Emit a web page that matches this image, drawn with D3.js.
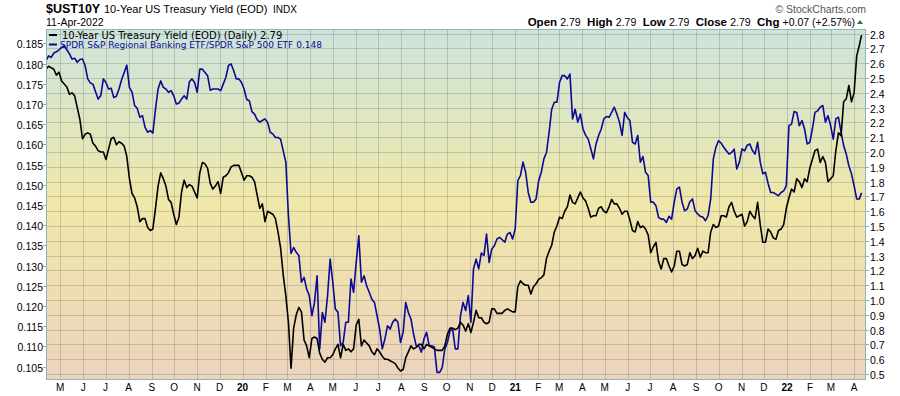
<!DOCTYPE html>
<meta charset="utf-8">
<script src="https://d3js.org/d3.v7.min.js"></script>
<style>
  body { margin: 0; background: #fff; }
</style>
<div id="chart"></div>
<script>

// closes read every half week, starting 12-Apr-2019; the last point is 11-Apr-2022
const startDate = new Date(2019, 3, 12);
const lastDate = new Date(2022, 3, 11);

// 10-Year US Treasury Yield (right axis)
const yieldValues = [
  2.56, 2.58, 2.57, 2.56, 2.52, 2.54, 2.48, 2.46, 2.44, 2.39,
  2.40, 2.38, 2.30, 2.22, 2.09, 2.12, 2.13, 2.12, 2.06, 2.04,
  2.01, 2.00, 2.00, 1.95, 2.02, 2.09, 2.10, 2.05, 2.07, 2.06,
  2.04, 1.97, 1.82, 1.72, 1.69, 1.63, 1.53, 1.55, 1.55, 1.49,
  1.47, 1.48, 1.62, 1.77, 1.86, 1.82, 1.77, 1.68, 1.66, 1.58,
  1.51, 1.56, 1.73, 1.81, 1.76, 1.78, 1.77, 1.73, 1.69, 1.86,
  1.93, 1.92, 1.89, 1.79, 1.75, 1.77, 1.80, 1.72, 1.83, 1.84,
  1.86, 1.90, 1.91, 1.91, 1.91, 1.86, 1.81, 1.84, 1.84, 1.83,
  1.80, 1.71, 1.62, 1.65, 1.53, 1.60, 1.59, 1.58, 1.55, 1.46,
  1.35, 1.17, 1.03, 0.85, 0.54, 0.81, 0.90, 0.95, 0.92, 0.73,
  0.69, 0.61, 0.74, 0.75, 0.74, 0.64, 0.60, 0.58, 0.61, 0.61,
  0.63, 0.67, 0.70, 0.61, 0.70, 0.66, 0.67, 0.65, 0.67, 0.83,
  0.87, 0.69, 0.73, 0.71, 0.69, 0.65, 0.63, 0.67, 0.65, 0.62,
  0.60, 0.60, 0.59, 0.58, 0.57, 0.54, 0.52, 0.53, 0.61, 0.65,
  0.69, 0.67, 0.68, 0.70, 0.70, 0.67, 0.70, 0.69, 0.68, 0.67,
  0.66, 0.66, 0.66, 0.69, 0.77, 0.81, 0.81, 0.80, 0.81, 0.85,
  0.83, 0.79, 0.84, 0.78, 0.85, 0.93, 0.88, 0.88, 0.85, 0.84,
  0.85, 0.94, 0.94, 0.91, 0.91, 0.91, 0.93, 0.94, 0.93, 0.92,
  0.92, 1.09, 1.13, 1.11, 1.10, 1.10, 1.04, 1.09, 1.11, 1.14,
  1.15, 1.17, 1.28, 1.33, 1.37, 1.46, 1.50, 1.56, 1.55, 1.60,
  1.63, 1.71, 1.66, 1.65, 1.69, 1.73, 1.69, 1.67, 1.62, 1.56,
  1.57, 1.57, 1.62, 1.63, 1.60, 1.59, 1.63, 1.68, 1.65, 1.65,
  1.62, 1.58, 1.60, 1.60, 1.54, 1.47, 1.46, 1.53, 1.49, 1.50,
  1.48, 1.44, 1.32, 1.36, 1.39, 1.26, 1.21, 1.28, 1.28, 1.23,
  1.19, 1.23, 1.33, 1.33, 1.24, 1.23, 1.24, 1.32, 1.28, 1.30,
  1.35, 1.29, 1.33, 1.32, 1.32, 1.46, 1.51, 1.49, 1.50, 1.57,
  1.57, 1.56, 1.63, 1.66, 1.60, 1.56, 1.57, 1.58, 1.50, 1.53,
  1.60, 1.57, 1.55, 1.66, 1.51, 1.39, 1.39, 1.48, 1.46, 1.42,
  1.41, 1.47, 1.48, 1.51, 1.62, 1.69, 1.75, 1.73, 1.82, 1.80,
  1.76, 1.82, 1.80, 1.89, 1.95, 2.01, 2.02, 1.93, 1.97, 1.93,
  1.80, 1.82, 1.84, 2.01, 2.13, 2.11, 2.34, 2.36, 2.45, 2.34,
  2.40, 2.65, 2.72, 2.79
];

// SPDR S&P Regional Banking ETF / SPDR S&P 500 ETF (left axis)
const ratioValues = [
  0.1807, 0.1819, 0.1815, 0.1826, 0.1829, 0.1834, 0.1840, 0.1844, 0.1834, 0.1824,
  0.1811, 0.1813, 0.1803, 0.1810, 0.1811, 0.1795, 0.1762, 0.1752, 0.1749, 0.1730,
  0.1712, 0.1720, 0.1762, 0.1753, 0.1737, 0.1739, 0.1716, 0.1719, 0.1737, 0.1760,
  0.1778, 0.1796, 0.1741, 0.1729, 0.1696, 0.1689, 0.1667, 0.1671, 0.1642, 0.1630,
  0.1634, 0.1628, 0.1687, 0.1737, 0.1757, 0.1741, 0.1737, 0.1729, 0.1733, 0.1720,
  0.1700, 0.1702, 0.1712, 0.1720, 0.1712, 0.1755, 0.1762, 0.1753, 0.1729, 0.1786,
  0.1786, 0.1778, 0.1770, 0.1734, 0.1737, 0.1737, 0.1737, 0.1733, 0.1749, 0.1766,
  0.1795, 0.1799, 0.1782, 0.1762, 0.1762, 0.1753, 0.1737, 0.1711, 0.1708, 0.1681,
  0.1675, 0.1661, 0.1655, 0.1659, 0.1663, 0.1655, 0.1630, 0.1626, 0.1617, 0.1617,
  0.1613, 0.1584, 0.1556, 0.1424, 0.1330, 0.1345, 0.1333, 0.1325, 0.1259, 0.1271,
  0.1242, 0.1226, 0.1176, 0.1209, 0.1275, 0.1094, 0.1184, 0.1160, 0.1225, 0.1316,
  0.1260, 0.1193, 0.1185, 0.1102, 0.1110, 0.1160, 0.1160, 0.1267, 0.1234, 0.1308,
  0.1374, 0.1259, 0.1275, 0.1250, 0.1234, 0.1217, 0.1209, 0.1176, 0.1143, 0.1094,
  0.1118, 0.1151, 0.1143, 0.1160, 0.1168, 0.1160, 0.1110, 0.1135, 0.1209, 0.1184,
  0.1168, 0.1131, 0.1102, 0.1102, 0.1086, 0.1119, 0.1135, 0.1102, 0.1102, 0.1098,
  0.1036, 0.1036, 0.1048, 0.1094, 0.1110, 0.1139, 0.1143, 0.1094, 0.1094, 0.1176,
  0.1209, 0.1189, 0.1226, 0.1160, 0.1292, 0.1316, 0.1292, 0.1331, 0.1325, 0.1378,
  0.1308, 0.1341, 0.1349, 0.1366, 0.1370, 0.1364, 0.1358, 0.1378, 0.1382, 0.1366,
  0.1391, 0.1510, 0.1523, 0.1556, 0.1531, 0.1481, 0.1457, 0.1457, 0.1465, 0.1510,
  0.1531, 0.1564, 0.1580, 0.1630, 0.1687, 0.1704, 0.1704, 0.1753, 0.1770, 0.1770,
  0.1762, 0.1774, 0.1663, 0.1687, 0.1655, 0.1675, 0.1638, 0.1623, 0.1613, 0.1589,
  0.1564, 0.1601, 0.1622, 0.1638, 0.1663, 0.1669, 0.1667, 0.1679, 0.1692, 0.1675,
  0.1655, 0.1622, 0.1679, 0.1666, 0.1659, 0.1605, 0.1601, 0.1622, 0.1556, 0.1570,
  0.1531, 0.1523, 0.1457, 0.1457, 0.1448, 0.1419, 0.1415, 0.1415, 0.1407, 0.1422,
  0.1415, 0.1457, 0.1490, 0.1494, 0.1457, 0.1436, 0.1440, 0.1458, 0.1465, 0.1436,
  0.1428, 0.1422, 0.1420, 0.1411, 0.1424, 0.1465, 0.1564, 0.1593, 0.1609, 0.1603,
  0.1593, 0.1584, 0.1576, 0.1580, 0.1588, 0.1539, 0.1556, 0.1589, 0.1584, 0.1598,
  0.1601, 0.1585, 0.1576, 0.1605, 0.1556, 0.1527, 0.1531, 0.1504, 0.1481, 0.1481,
  0.1477, 0.1473, 0.1481, 0.1485, 0.1498, 0.1646, 0.1650, 0.1681, 0.1679, 0.1646,
  0.1659, 0.1638, 0.1601, 0.1605, 0.1638, 0.1679, 0.1683, 0.1692, 0.1696, 0.1655,
  0.1671, 0.1646, 0.1613, 0.1663, 0.1667, 0.1630, 0.1597, 0.1576, 0.1547, 0.1527,
  0.1498, 0.1465, 0.1465, 0.148
];

const leftTicks = [0.105, 0.110, 0.115, 0.120, 0.125, 0.130, 0.135, 0.140, 0.145,
  0.150, 0.155, 0.160, 0.165, 0.170, 0.175, 0.180, 0.185];
const rightTicks = [0.5, 0.6, 0.7, 0.8, 0.9, 1.0, 1.1, 1.2, 1.3, 1.4, 1.5, 1.6, 1.7,
  1.8, 1.9, 2.0, 2.1, 2.2, 2.3, 2.4, 2.5, 2.6, 2.7, 2.8];
const monthLetters = ["J", "F", "M", "A", "M", "J", "J", "A", "S", "O", "N", "D"];

const W = 900, H = 396;
const plot = {left: 46, right: 866, top: 29, bottom: 380};

// one point every 84 hours (half a week), the last one on the chart date
const dates = yieldValues.map((v, i) =>
  i === yieldValues.length - 1 ? lastDate : d3.timeHour.offset(startDate, 84 * i));

const svg = d3.select("#chart").append("svg")
  .attr("width", W).attr("height", H)
  .style("font-family", "Arial, 'Liberation Sans', sans-serif");

// scales
const x = d3.scaleTime()
  .domain([new Date(2019, 3, 12), new Date(2022, 3, 17)])
  .range([plot.left, plot.right]);
const yL = d3.scaleLinear().domain([0.105, 0.185]).range([366.7, 43.3]);
const yR = d3.scaleLinear().domain([0.5, 2.8]).range([374, 33.7]);

// background gradient
const defs = svg.append("defs");
const grad = defs.append("linearGradient")
  .attr("id", "bg").attr("x1", 0).attr("y1", 0).attr("x2", 0).attr("y2", 1);
grad.append("stop").attr("offset", "0%").attr("stop-color", "#cde4dc");
grad.append("stop").attr("offset", "50%").attr("stop-color", "#f0e7a9");
grad.append("stop").attr("offset", "100%").attr("stop-color", "#ecd3bd");

defs.append("clipPath").attr("id", "clip")
  .append("rect")
  .attr("x", plot.left).attr("y", plot.top)
  .attr("width", plot.right - plot.left).attr("height", plot.bottom - plot.top);

svg.append("rect")
  .attr("x", plot.left).attr("y", plot.top)
  .attr("width", plot.right - plot.left).attr("height", plot.bottom - plot.top)
  .attr("fill", "url(#bg)");

// grid
const months = d3.timeMonth.range(new Date(2019, 4, 1), new Date(2022, 3, 17));
const grid = svg.append("g").attr("stroke", "#5f6f5f").attr("stroke-opacity", 0.28).attr("stroke-width", 1);
grid.selectAll(".v").data(months).join("line")
  .attr("x1", d => Math.round(x(d)) + 0.5).attr("x2", d => Math.round(x(d)) + 0.5)
  .attr("y1", plot.top).attr("y2", plot.bottom);
grid.selectAll(".h").data(rightTicks).join("line")
  .attr("x1", plot.left).attr("x2", plot.right)
  .attr("y1", d => Math.round(yR(d)) + 0.5).attr("y2", d => Math.round(yR(d)) + 0.5);

// lines
const lines = svg.append("g").attr("clip-path", "url(#clip)");
lines.append("path")
  .datum(ratioValues)
  .attr("fill", "none").attr("stroke", "#0a0a96").attr("stroke-width", 1.6)
  .attr("stroke-linejoin", "round")
  .attr("d", d3.line().x((d, i) => x(dates[i])).y(d => yL(d)));
lines.append("path")
  .datum(yieldValues)
  .attr("fill", "none").attr("stroke", "#000").attr("stroke-width", 1.6)
  .attr("stroke-linejoin", "round")
  .attr("d", d3.line().x((d, i) => x(dates[i])).y(d => yR(d)));

// border
svg.append("rect")
  .attr("x", plot.left + 0.5).attr("y", plot.top + 0.5)
  .attr("width", plot.right - plot.left - 1).attr("height", plot.bottom - plot.top - 1)
  .attr("fill", "none").attr("stroke", "#8fb4b4");

// left axis
const gl = svg.append("g").attr("font-size", "10.5px").attr("fill", "#000");
leftTicks.forEach(t => {
  const yy = Math.round(yL(t)) + 0.5;
  gl.append("line").attr("x1", 43).attr("x2", 46).attr("y1", yy).attr("y2", yy).attr("stroke", "#8fb4b4");
  gl.append("text").attr("x", 43).attr("y", yy + 4).attr("text-anchor", "end").text(d3.format(".3f")(t));
});

// right axis
const gr = svg.append("g").attr("font-size", "10.5px").attr("fill", "#000");
rightTicks.forEach(t => {
  const yy = Math.round(yR(t)) + 0.5;
  gr.append("line").attr("x1", 866).attr("x2", 869).attr("y1", yy).attr("y2", yy).attr("stroke", "#8fb4b4");
  gr.append("text").attr("x", 870).attr("y", yy + 4).text(d3.format(".1f")(t));
});

// bottom axis
const gb = svg.append("g").attr("font-size", "10px").attr("text-anchor", "middle");
months.forEach(m => {
  const isYear = m.getMonth() === 0;
  gb.append("text")
    .attr("x", x(m)).attr("y", 391)
    .attr("font-weight", isYear ? "bold" : "normal")
    .text(isYear ? d3.timeFormat("%y")(m) : monthLetters[m.getMonth()]);
});

// header
svg.append("text").attr("x", 46).attr("y", 13)
  .attr("font-size", "12.5px").attr("font-weight", "bold").text("$UST10Y");
svg.append("text").attr("x", 104).attr("y", 13)
  .attr("font-size", "11px").text("10-Year US Treasury Yield (EOD)");
svg.append("text").attr("x", 273).attr("y", 13)
  .attr("font-size", "10px").text("INDX");
svg.append("text").attr("x", 46).attr("y", 25.5)
  .attr("font-size", "10.5px").text("11-Apr-2022");

svg.append("text").attr("x", 866).attr("y", 13).attr("text-anchor", "end")
  .attr("font-size", "10.5px").attr("fill", "#555").text("\u00A9 StockCharts.com");

const ohlc = svg.append("text").attr("x", 855).attr("y", 25.5).attr("text-anchor", "end")
  .attr("font-size", "10.5px");
[["Open", "2.79"], ["High", "2.79"], ["Low", "2.79"], ["Close", "2.79"], ["Chg", "+0.07 (+2.57%)"]]
  .forEach(([k, v], i) => {
    ohlc.append("tspan").attr("font-weight", "bold").attr("font-size", "11.5px").text((i ? "\u00A0\u00A0" : "") + k + " ");
    ohlc.append("tspan").text(v);
  });
svg.append("path").attr("d", "M857,24 L860,20 L863,24 Z").attr("fill", "#2f7a2f");

// legend
const lg = svg.append("g").style("font-family", "'DejaVu Sans', Verdana, sans-serif");
lg.append("line").attr("x1", 49).attr("x2", 57).attr("y1", 35).attr("y2", 35)
  .attr("stroke", "#000").attr("stroke-width", 2);
lg.append("text").attr("x", 62).attr("y", 38.5).attr("font-size", "10px").attr("fill", "#000")
  .text("10-Year US Treasury Yield (EOD) (Daily) 2.79");
lg.append("line").attr("x1", 49).attr("x2", 57).attr("y1", 44.5).attr("y2", 44.5)
  .attr("stroke", "#0a0a96").attr("stroke-width", 2);
lg.append("text").attr("x", 60).attr("y", 48).attr("font-size", "9px").attr("fill", "#0a0a96")
  .text("SPDR S&P Regional Banking ETF/SPDR S&P 500 ETF 0.148");

</script>
